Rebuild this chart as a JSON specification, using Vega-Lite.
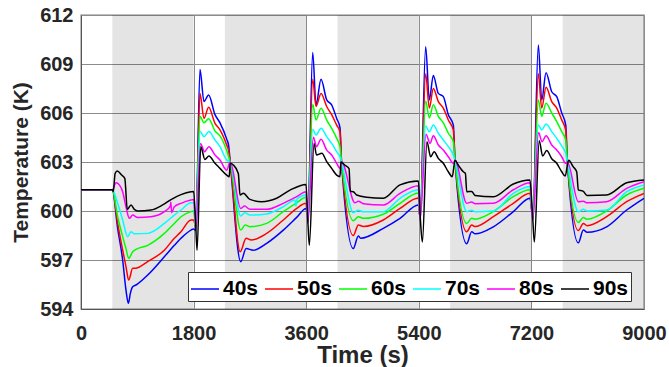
{
"$schema": "https://vega.github.io/schema/vega-lite/v6.json",
"width": 563, "height": 294,
"autosize": {"type": "none"},
"padding": {"left": 81, "top": 15, "right": 25, "bottom": 58},
"background": "white",
"config": {
  "view": {"stroke": "#aaaaaa", "strokeWidth": 1.5},
  "axis": {"labelFont": "Liberation Sans", "labelFontSize": 20, "labelFontWeight": "bold", "labelColor": "#262626",
           "titleFont": "Liberation Sans", "titleFontSize": 22, "titleFontWeight": "bold", "titleColor": "#262626",
           "grid": true, "gridColor": "#8c8c8c", "gridWidth": 1, "domainColor": "#555555", "tickSize": 0, "ticks": false},
  "legend": {"labelFont": "Liberation Sans", "labelFontSize": 21, "labelFontWeight": "bold", "labelColor": "#000000"}
},
"datasets": {
  "shade": [{"a": 500, "b": 1800}, {"a": 2300, "b": 3600}, {"a": 4100, "b": 5400}, {"a": 5900, "b": 7200}, {"a": 7700, "b": 9000}],
  "temp": [
{"s":"40s","t":0,"v":601.3},{"s":"40s","t":500,"v":601.3},{"s":"40s","t":586,"v":598.94},{"s":"40s","t":666,"v":597.0},{"s":"40s","t":719,"v":595.16},{"s":"40s","t":757,"v":594.35},{"s":"40s","t":789,"v":594.96},{"s":"40s","t":826,"v":595.36},{"s":"40s","t":879,"v":595.47},{"s":"40s","t":1066,"v":596.08},{"s":"40s","t":1332,"v":597.2},{"s":"40s","t":1492,"v":597.9},{"s":"40s","t":1598,"v":598.33},{"s":"40s","t":1758,"v":598.83},{"s":"40s","t":1800,"v":598.9},{"s":"40s","t":1835,"v":598.8},{"s":"40s","t":1902,"v":608.67},{"s":"40s","t":1966,"v":606.7},{"s":"40s","t":2040,"v":607.1},{"s":"40s","t":2142,"v":605.9},{"s":"40s","t":2222,"v":605.4},{"s":"40s","t":2329,"v":604.4},{"s":"40s","t":2360,"v":604.0},{"s":"40s","t":2385,"v":603.0},{"s":"40s","t":2553,"v":596.9},{"s":"40s","t":2640,"v":597.7},{"s":"40s","t":2755,"v":597.6},{"s":"40s","t":2968,"v":598.02},{"s":"40s","t":3234,"v":598.83},{"s":"40s","t":3448,"v":599.61},{"s":"40s","t":3597,"v":600.16},{"s":"40s","t":3625,"v":599.6},{"s":"40s","t":3704,"v":609.7},{"s":"40s","t":3757,"v":606.5},{"s":"40s","t":3837,"v":608.06},{"s":"40s","t":3928,"v":606.8},{"s":"40s","t":4007,"v":606.5},{"s":"40s","t":4087,"v":605.67},{"s":"40s","t":4140,"v":605.1},{"s":"40s","t":4165,"v":603.0},{"s":"40s","t":4353,"v":597.7},{"s":"40s","t":4433,"v":598.47},{"s":"40s","t":4470,"v":598.33},{"s":"40s","t":4833,"v":598.94},{"s":"40s","t":5100,"v":599.55},{"s":"40s","t":5393,"v":600.37},{"s":"40s","t":5420,"v":599.6},{"s":"40s","t":5510,"v":610.06},{"s":"40s","t":5568,"v":606.8},{"s":"40s","t":5632,"v":608.3},{"s":"40s","t":5712,"v":607.2},{"s":"40s","t":5792,"v":607.0},{"s":"40s","t":5872,"v":605.9},{"s":"40s","t":5952,"v":605.26},{"s":"40s","t":5979,"v":603.1},{"s":"40s","t":6166,"v":598.0},{"s":"40s","t":6245,"v":598.73},{"s":"40s","t":6300,"v":598.6},{"s":"40s","t":6591,"v":599.03},{"s":"40s","t":6911,"v":599.96},{"s":"40s","t":7177,"v":600.78},{"s":"40s","t":7222,"v":599.6},{"s":"40s","t":7311,"v":610.16},{"s":"40s","t":7365,"v":606.8},{"s":"40s","t":7434,"v":608.47},{"s":"40s","t":7525,"v":607.3},{"s":"40s","t":7605,"v":607.0},{"s":"40s","t":7685,"v":606.0},{"s":"40s","t":7749,"v":605.26},{"s":"40s","t":7775,"v":603.0},{"s":"40s","t":7950,"v":598.05},{"s":"40s","t":8030,"v":598.83},{"s":"40s","t":8090,"v":598.7},{"s":"40s","t":8403,"v":599.03},{"s":"40s","t":8723,"v":600.06},{"s":"40s","t":9000,"v":600.78},
{"s":"50s","t":0,"v":601.3},{"s":"50s","t":500,"v":601.3},{"s":"50s","t":586,"v":599.24},{"s":"50s","t":666,"v":597.6},{"s":"50s","t":719,"v":596.6},{"s":"50s","t":762,"v":595.77},{"s":"50s","t":826,"v":596.49},{"s":"50s","t":879,"v":596.5},{"s":"50s","t":1066,"v":596.9},{"s":"50s","t":1332,"v":597.6},{"s":"50s","t":1492,"v":598.33},{"s":"50s","t":1598,"v":598.73},{"s":"50s","t":1758,"v":599.45},{"s":"50s","t":1800,"v":599.45},{"s":"50s","t":1835,"v":599.0},{"s":"50s","t":1902,"v":607.2},{"s":"50s","t":1966,"v":605.67},{"s":"50s","t":2040,"v":606.35},{"s":"50s","t":2142,"v":605.37},{"s":"50s","t":2222,"v":604.96},{"s":"50s","t":2329,"v":604.04},{"s":"50s","t":2360,"v":603.7},{"s":"50s","t":2385,"v":603.0},{"s":"50s","t":2545,"v":597.5},{"s":"50s","t":2640,"v":598.33},{"s":"50s","t":2720,"v":598.22},{"s":"50s","t":2968,"v":598.63},{"s":"50s","t":3234,"v":599.45},{"s":"50s","t":3448,"v":600.16},{"s":"50s","t":3597,"v":600.47},{"s":"50s","t":3625,"v":599.4},{"s":"50s","t":3704,"v":608.06},{"s":"50s","t":3757,"v":606.4},{"s":"50s","t":3837,"v":607.2},{"s":"50s","t":3928,"v":606.4},{"s":"50s","t":4007,"v":605.9},{"s":"50s","t":4087,"v":605.26},{"s":"50s","t":4140,"v":604.85},{"s":"50s","t":4165,"v":603.0},{"s":"50s","t":4353,"v":598.5},{"s":"50s","t":4433,"v":599.14},{"s":"50s","t":4513,"v":599.05},{"s":"50s","t":4833,"v":599.45},{"s":"50s","t":5100,"v":600.16},{"s":"50s","t":5393,"v":600.8},{"s":"50s","t":5420,"v":599.5},{"s":"50s","t":5510,"v":608.4},{"s":"50s","t":5568,"v":606.3},{"s":"50s","t":5632,"v":607.5},{"s":"50s","t":5712,"v":606.7},{"s":"50s","t":5792,"v":606.3},{"s":"50s","t":5872,"v":605.57},{"s":"50s","t":5952,"v":604.96},{"s":"50s","t":5979,"v":603.1},{"s":"50s","t":6166,"v":598.73},{"s":"50s","t":6245,"v":599.14},{"s":"50s","t":6300,"v":599.05},{"s":"50s","t":6591,"v":599.65},{"s":"50s","t":6911,"v":600.47},{"s":"50s","t":7177,"v":601.08},{"s":"50s","t":7222,"v":599.5},{"s":"50s","t":7311,"v":608.4},{"s":"50s","t":7365,"v":606.3},{"s":"50s","t":7434,"v":607.57},{"s":"50s","t":7525,"v":606.7},{"s":"50s","t":7605,"v":606.3},{"s":"50s","t":7685,"v":605.57},{"s":"50s","t":7749,"v":604.96},{"s":"50s","t":7775,"v":603.0},{"s":"50s","t":7950,"v":598.8},{"s":"50s","t":8030,"v":599.24},{"s":"50s","t":8090,"v":599.1},{"s":"50s","t":8403,"v":599.65},{"s":"50s","t":8723,"v":600.57},{"s":"50s","t":9000,"v":601.08},
{"s":"60s","t":0,"v":601.3},{"s":"60s","t":500,"v":601.3},{"s":"60s","t":586,"v":599.65},{"s":"60s","t":666,"v":598.43},{"s":"60s","t":719,"v":597.7},{"s":"60s","t":762,"v":597.1},{"s":"60s","t":826,"v":597.5},{"s":"60s","t":879,"v":597.65},{"s":"60s","t":1066,"v":597.9},{"s":"60s","t":1332,"v":598.63},{"s":"60s","t":1492,"v":599.24},{"s":"60s","t":1598,"v":599.65},{"s":"60s","t":1758,"v":599.96},{"s":"60s","t":1800,"v":600.0},{"s":"60s","t":1835,"v":599.0},{"s":"60s","t":1902,"v":605.8},{"s":"60s","t":1966,"v":605.4},{"s":"60s","t":2040,"v":605.65},{"s":"60s","t":2142,"v":604.9},{"s":"60s","t":2222,"v":604.6},{"s":"60s","t":2329,"v":603.7},{"s":"60s","t":2385,"v":603.0},{"s":"60s","t":2553,"v":598.83},{"s":"60s","t":2625,"v":599.14},{"s":"60s","t":2700,"v":599.04},{"s":"60s","t":2968,"v":599.24},{"s":"60s","t":3234,"v":599.96},{"s":"60s","t":3448,"v":600.5},{"s":"60s","t":3597,"v":600.84},{"s":"60s","t":3625,"v":599.3},{"s":"60s","t":3704,"v":606.53},{"s":"60s","t":3757,"v":605.57},{"s":"60s","t":3837,"v":606.29},{"s":"60s","t":3928,"v":605.57},{"s":"60s","t":4007,"v":605.06},{"s":"60s","t":4087,"v":604.45},{"s":"60s","t":4140,"v":603.94},{"s":"60s","t":4165,"v":603.0},{"s":"60s","t":4353,"v":599.4},{"s":"60s","t":4433,"v":599.65},{"s":"60s","t":4513,"v":599.55},{"s":"60s","t":4833,"v":599.8},{"s":"60s","t":5100,"v":600.47},{"s":"60s","t":5393,"v":601.1},{"s":"60s","t":5420,"v":599.5},{"s":"60s","t":5510,"v":606.73},{"s":"60s","t":5568,"v":605.7},{"s":"60s","t":5632,"v":606.5},{"s":"60s","t":5712,"v":605.8},{"s":"60s","t":5792,"v":605.4},{"s":"60s","t":5872,"v":604.76},{"s":"60s","t":5952,"v":604.24},{"s":"60s","t":5979,"v":603.1},{"s":"60s","t":6166,"v":599.24},{"s":"60s","t":6245,"v":599.55},{"s":"60s","t":6300,"v":599.5},{"s":"60s","t":6591,"v":599.96},{"s":"60s","t":6911,"v":600.88},{"s":"60s","t":7177,"v":601.3},{"s":"60s","t":7222,"v":599.5},{"s":"60s","t":7311,"v":606.8},{"s":"60s","t":7365,"v":605.8},{"s":"60s","t":7434,"v":606.6},{"s":"60s","t":7525,"v":606.0},{"s":"60s","t":7605,"v":605.47},{"s":"60s","t":7685,"v":604.86},{"s":"60s","t":7749,"v":604.35},{"s":"60s","t":7775,"v":603.0},{"s":"60s","t":7950,"v":599.3},{"s":"60s","t":8030,"v":599.6},{"s":"60s","t":8090,"v":599.5},{"s":"60s","t":8403,"v":600.0},{"s":"60s","t":8723,"v":600.98},{"s":"60s","t":9000,"v":601.39},
{"s":"70s","t":0,"v":601.3},{"s":"70s","t":500,"v":601.3},{"s":"70s","t":586,"v":600.47},{"s":"70s","t":666,"v":599.45},{"s":"70s","t":746,"v":598.43},{"s":"70s","t":800,"v":598.73},{"s":"70s","t":853,"v":598.6},{"s":"70s","t":1066,"v":598.63},{"s":"70s","t":1332,"v":599.24},{"s":"70s","t":1492,"v":599.75},{"s":"70s","t":1598,"v":600.06},{"s":"70s","t":1758,"v":600.5},{"s":"70s","t":1800,"v":600.5},{"s":"70s","t":1835,"v":599.0},{"s":"70s","t":1905,"v":604.86},{"s":"70s","t":1966,"v":604.55},{"s":"70s","t":2045,"v":604.86},{"s":"70s","t":2142,"v":604.35},{"s":"70s","t":2222,"v":603.94},{"s":"70s","t":2329,"v":603.12},{"s":"70s","t":2385,"v":603.0},{"s":"70s","t":2553,"v":599.69},{"s":"70s","t":2620,"v":599.9},{"s":"70s","t":2700,"v":599.75},{"s":"70s","t":2968,"v":599.82},{"s":"70s","t":3234,"v":600.26},{"s":"70s","t":3420,"v":600.67},{"s":"70s","t":3437,"v":600.3},{"s":"70s","t":3455,"v":600.75},{"s":"70s","t":3597,"v":600.98},{"s":"70s","t":3625,"v":599.3},{"s":"70s","t":3704,"v":605.0},{"s":"70s","t":3757,"v":604.65},{"s":"70s","t":3837,"v":605.06},{"s":"70s","t":3928,"v":604.55},{"s":"70s","t":4007,"v":604.14},{"s":"70s","t":4087,"v":603.63},{"s":"70s","t":4140,"v":603.32},{"s":"70s","t":4165,"v":603.0},{"s":"70s","t":4353,"v":599.9},{"s":"70s","t":4433,"v":600.05},{"s":"70s","t":4513,"v":599.95},{"s":"70s","t":4833,"v":599.96},{"s":"70s","t":5100,"v":600.78},{"s":"70s","t":5393,"v":601.3},{"s":"70s","t":5420,"v":599.5},{"s":"70s","t":5510,"v":605.2},{"s":"70s","t":5568,"v":604.85},{"s":"70s","t":5632,"v":605.26},{"s":"70s","t":5712,"v":604.76},{"s":"70s","t":5792,"v":604.35},{"s":"70s","t":5872,"v":603.94},{"s":"70s","t":5952,"v":603.43},{"s":"70s","t":5979,"v":603.1},{"s":"70s","t":6166,"v":599.96},{"s":"70s","t":6245,"v":600.05},{"s":"70s","t":6300,"v":599.95},{"s":"70s","t":6591,"v":600.0},{"s":"70s","t":6911,"v":601.08},{"s":"70s","t":7177,"v":601.5},{"s":"70s","t":7222,"v":599.5},{"s":"70s","t":7311,"v":605.26},{"s":"70s","t":7365,"v":604.96},{"s":"70s","t":7434,"v":605.33},{"s":"70s","t":7525,"v":604.86},{"s":"70s","t":7605,"v":604.45},{"s":"70s","t":7685,"v":603.98},{"s":"70s","t":7749,"v":603.53},{"s":"70s","t":7775,"v":603.0},{"s":"70s","t":7950,"v":599.96},{"s":"70s","t":8030,"v":600.1},{"s":"70s","t":8090,"v":600.0},{"s":"70s","t":8403,"v":600.06},{"s":"70s","t":8723,"v":601.18},{"s":"70s","t":9000,"v":601.6},
{"s":"80s","t":0,"v":601.3},{"s":"80s","t":500,"v":601.3},{"s":"80s","t":560,"v":601.73},{"s":"80s","t":613,"v":601.6},{"s":"80s","t":666,"v":601.18},{"s":"80s","t":719,"v":600.26},{"s":"80s","t":773,"v":599.55},{"s":"80s","t":826,"v":599.75},{"s":"80s","t":906,"v":599.6},{"s":"80s","t":1119,"v":599.65},{"s":"80s","t":1332,"v":599.96},{"s":"80s","t":1428,"v":600.3},{"s":"80s","t":1436,"v":600.55},{"s":"80s","t":1449,"v":599.9},{"s":"80s","t":1492,"v":600.26},{"s":"80s","t":1598,"v":600.47},{"s":"80s","t":1758,"v":600.67},{"s":"80s","t":1800,"v":600.7},{"s":"80s","t":1838,"v":599.0},{"s":"80s","t":1910,"v":604.14},{"s":"80s","t":1975,"v":603.63},{"s":"80s","t":2045,"v":603.94},{"s":"80s","t":2142,"v":603.43},{"s":"80s","t":2222,"v":603.12},{"s":"80s","t":2329,"v":602.5},{"s":"80s","t":2385,"v":603.0},{"s":"80s","t":2553,"v":600.16},{"s":"80s","t":2615,"v":600.3},{"s":"80s","t":2700,"v":600.1},{"s":"80s","t":2968,"v":600.1},{"s":"80s","t":3234,"v":600.47},{"s":"80s","t":3448,"v":600.88},{"s":"80s","t":3597,"v":601.18},{"s":"80s","t":3625,"v":599.25},{"s":"80s","t":3715,"v":604.51},{"s":"80s","t":3765,"v":603.94},{"s":"80s","t":3837,"v":604.39},{"s":"80s","t":3928,"v":603.73},{"s":"80s","t":4007,"v":603.43},{"s":"80s","t":4087,"v":602.92},{"s":"80s","t":4140,"v":602.61},{"s":"80s","t":4165,"v":603.0},{"s":"80s","t":4380,"v":600.5},{"s":"80s","t":4433,"v":600.6},{"s":"80s","t":4513,"v":600.45},{"s":"80s","t":4833,"v":600.37},{"s":"80s","t":5100,"v":601.08},{"s":"80s","t":5393,"v":601.55},{"s":"80s","t":5420,"v":599.45},{"s":"80s","t":5515,"v":604.7},{"s":"80s","t":5580,"v":604.14},{"s":"80s","t":5632,"v":604.6},{"s":"80s","t":5712,"v":604.04},{"s":"80s","t":5792,"v":603.73},{"s":"80s","t":5872,"v":603.32},{"s":"80s","t":5952,"v":602.92},{"s":"80s","t":5979,"v":603.1},{"s":"80s","t":6166,"v":600.47},{"s":"80s","t":6245,"v":600.55},{"s":"80s","t":6300,"v":600.45},{"s":"80s","t":6591,"v":600.47},{"s":"80s","t":6911,"v":601.3},{"s":"80s","t":7177,"v":601.73},{"s":"80s","t":7222,"v":599.45},{"s":"80s","t":7315,"v":604.8},{"s":"80s","t":7370,"v":604.24},{"s":"80s","t":7434,"v":604.6},{"s":"80s","t":7525,"v":604.04},{"s":"80s","t":7605,"v":603.73},{"s":"80s","t":7685,"v":603.32},{"s":"80s","t":7749,"v":602.92},{"s":"80s","t":7775,"v":603.0},{"s":"80s","t":7950,"v":600.57},{"s":"80s","t":8030,"v":600.6},{"s":"80s","t":8090,"v":600.5},{"s":"80s","t":8403,"v":600.57},{"s":"80s","t":8723,"v":601.39},{"s":"80s","t":9000,"v":601.8},
{"s":"90s","t":0,"v":601.3},{"s":"90s","t":500,"v":601.3},{"s":"90s","t":517,"v":601.2},{"s":"90s","t":545,"v":602.3},{"s":"90s","t":580,"v":602.45},{"s":"90s","t":650,"v":602.2},{"s":"90s","t":700,"v":602.0},{"s":"90s","t":740,"v":600.1},{"s":"90s","t":800,"v":600.37},{"s":"90s","t":853,"v":600.1},{"s":"90s","t":906,"v":600.0},{"s":"90s","t":1119,"v":600.06},{"s":"90s","t":1305,"v":600.37},{"s":"90s","t":1439,"v":600.7},{"s":"90s","t":1598,"v":601.0},{"s":"90s","t":1758,"v":601.18},{"s":"90s","t":1800,"v":601.2},{"s":"90s","t":1830,"v":599.5},{"s":"90s","t":1855,"v":597.6},{"s":"90s","t":1915,"v":603.94},{"s":"90s","t":1980,"v":603.16},{"s":"90s","t":2045,"v":603.37},{"s":"90s","t":2142,"v":602.92},{"s":"90s","t":2222,"v":602.61},{"s":"90s","t":2329,"v":602.2},{"s":"90s","t":2370,"v":602.1},{"s":"90s","t":2385,"v":602.92},{"s":"90s","t":2435,"v":602.82},{"s":"90s","t":2515,"v":602.3},{"s":"90s","t":2542,"v":600.98},{"s":"90s","t":2595,"v":601.08},{"s":"90s","t":2701,"v":600.71},{"s":"90s","t":2888,"v":600.57},{"s":"90s","t":3128,"v":600.78},{"s":"90s","t":3341,"v":601.28},{"s":"90s","t":3597,"v":601.63},{"s":"90s","t":3625,"v":599.5},{"s":"90s","t":3650,"v":597.9},{"s":"90s","t":3725,"v":604.14},{"s":"90s","t":3765,"v":603.43},{"s":"90s","t":3850,"v":603.53},{"s":"90s","t":3928,"v":603.02},{"s":"90s","t":4007,"v":602.61},{"s":"90s","t":4087,"v":602.2},{"s":"90s","t":4140,"v":602.1},{"s":"90s","t":4155,"v":603.0},{"s":"90s","t":4220,"v":602.8},{"s":"90s","t":4285,"v":602.6},{"s":"90s","t":4305,"v":601.2},{"s":"90s","t":4353,"v":601.18},{"s":"90s","t":4407,"v":600.98},{"s":"90s","t":4567,"v":600.84},{"s":"90s","t":4833,"v":600.78},{"s":"90s","t":5100,"v":601.6},{"s":"90s","t":5393,"v":601.83},{"s":"90s","t":5425,"v":599.5},{"s":"90s","t":5457,"v":598.1},{"s":"90s","t":5530,"v":604.24},{"s":"90s","t":5590,"v":603.32},{"s":"90s","t":5645,"v":603.63},{"s":"90s","t":5712,"v":603.22},{"s":"90s","t":5792,"v":602.92},{"s":"90s","t":5872,"v":602.4},{"s":"90s","t":5935,"v":602.1},{"s":"90s","t":5979,"v":603.1},{"s":"90s","t":6032,"v":602.8},{"s":"90s","t":6112,"v":602.4},{"s":"90s","t":6145,"v":602.3},{"s":"90s","t":6166,"v":601.18},{"s":"90s","t":6245,"v":601.2},{"s":"90s","t":6300,"v":600.95},{"s":"90s","t":6591,"v":600.87},{"s":"90s","t":6911,"v":601.65},{"s":"90s","t":7177,"v":601.9},{"s":"90s","t":7222,"v":599.5},{"s":"90s","t":7247,"v":598.1},{"s":"90s","t":7325,"v":604.3},{"s":"90s","t":7380,"v":603.37},{"s":"90s","t":7445,"v":603.7},{"s":"90s","t":7525,"v":603.2},{"s":"90s","t":7605,"v":602.92},{"s":"90s","t":7685,"v":602.4},{"s":"90s","t":7740,"v":602.14},{"s":"90s","t":7795,"v":603.1},{"s":"90s","t":7870,"v":602.7},{"s":"90s","t":7924,"v":602.4},{"s":"90s","t":7950,"v":601.3},{"s":"90s","t":8030,"v":601.2},{"s":"90s","t":8090,"v":600.95},{"s":"90s","t":8403,"v":600.98},{"s":"90s","t":8723,"v":601.73},{"s":"90s","t":9000,"v":601.9}
  ]
},
"layer": [
  {
    "data": {"name": "shade"},
    "mark": {"type": "rect", "fill": "#000000", "opacity": 0.105},
    "encoding": {
      "x": {"field": "a", "type": "quantitative", "scale": {"domain": [0, 9000], "nice": false}},
      "x2": {"field": "b"}
    }
  },
  {
    "data": {"name": "temp"},
    "mark": {"type": "line", "strokeWidth": 1.5, "clip": true, "interpolate": "monotone"},
    "encoding": {
      "x": {"field": "t", "type": "quantitative", "title": "Time (s)",
            "scale": {"domain": [0, 9000], "nice": false},
            "axis": {"values": [0, 1800, 3600, 5400, 7200, 9000], "format": "d", "labelPadding": 14, "titlePadding": 0, "labelFlush": false, "titleFontSize": 24}},
      "y": {"field": "v", "type": "quantitative", "title": "Temperature (K)",
            "scale": {"domain": [594, 612], "nice": false, "zero": false},
            "axis": {"values": [594, 597, 600, 603, 606, 609, 612], "format": "d", "labelPadding": 8, "titlePadding": 8, "titleFontSize": 21}},
      "color": {"field": "s", "type": "nominal",
                "scale": {"domain": ["40s", "50s", "60s", "70s", "80s", "90s"], "range": ["#0000ff", "#ff0000", "#00ff00", "#00ffff", "#ff00ff", "#000000"]},
                "legend": {"title": null, "orient": "none", "legendX": 107, "legendY": 257, "direction": "horizontal", "columns": 6,
                           "symbolType": "stroke", "symbolSize": 784, "symbolStrokeWidth": 1.5, "labelOffset": 3, "columnPadding": 3,
                           "fillColor": "#ffffff", "strokeColor": "#333333", "padding": 2}},
      "order": {"field": "t", "type": "quantitative"}
    }
  }
]
}
